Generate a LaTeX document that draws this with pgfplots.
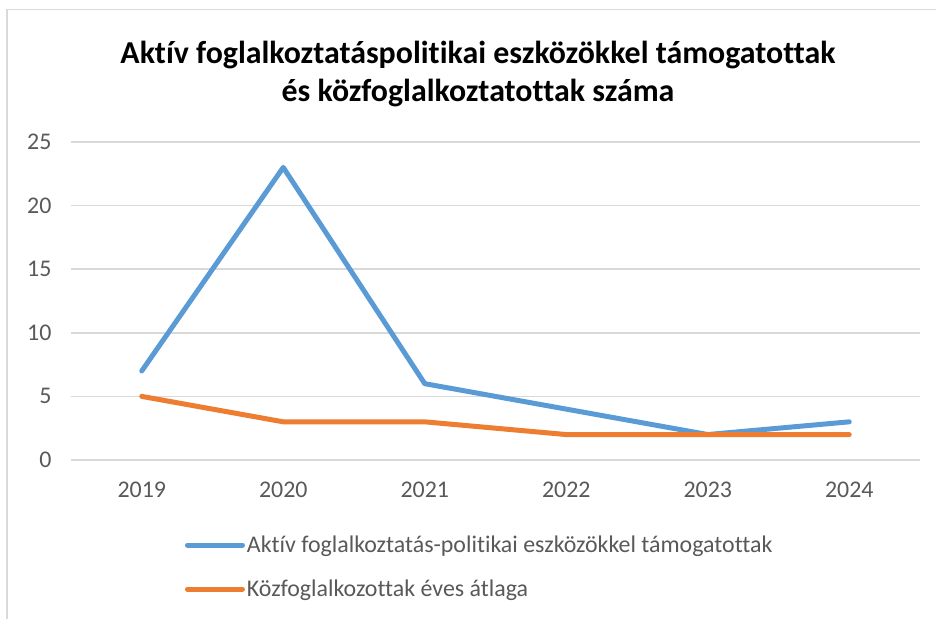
\documentclass[border=0pt]{standalone}
\usepackage{pgfplots}
\pgfplotsset{compat=1.18}
\usepackage{fontspec}
\setmainfont{Carlito}[Ligatures=NoCommon]
\definecolor{serblue}{HTML}{5B9BD5}
\definecolor{serorange}{HTML}{ED7D31}
\definecolor{gridc}{HTML}{D9D9D9}
\definecolor{txt}{HTML}{595959}
\begin{document}
\begin{tikzpicture}[x=1bp,y=1bp]
  \useasboundingbox (0,0) rectangle (936,619);
  \draw[gridc, line width=1.5bp] (7,0) -- (7,609.5) -- (936,609.5);
  \node[align=center, font=\bfseries\fontsize{32}{38}\selectfont, text=black]
    at (478,545) {Aktív foglalkoztatáspolitikai eszközökkel támogatottak\\és közfoglalkoztatottak száma};
  \begin{axis}[
      at={(71bp,159bp)}, anchor=south west,
      scale only axis, width=849bp, height=318bp,
      xmin=-0.5, xmax=5.5, ymin=0, ymax=25,
      xtick={0,...,5},
      xticklabels={2019,2020,2021,2022,2023,2024},
      ytick={0,5,...,25},
      axis line style={draw=none},
      major tick length=0pt,
      ymajorgrids=true,
      grid style={gridc, line width=1.5bp},
      tick label style={font=\fontsize{24}{28}\selectfont, text=txt},
      yticklabel style={anchor=east, xshift=-16bp},
      xticklabel style={anchor=north, yshift=-18bp},
      /pgf/number format/assume math mode=true,
      legend style={at={(0.134,-0.232)}, anchor=north west, draw=none,
        font=\fontsize{24}{28}\selectfont, text=txt,
        row sep=22bp, inner sep=0pt,
        /tikz/every even column/.append style={column sep=0pt}},
      legend cell align=left,
      legend image code/.code={\draw[line width=5bp, line cap=round] (0bp,0bp) -- (55bp,0bp);},
    ]
    \addplot[serblue, line width=5bp, line cap=round, line join=round] coordinates {
      (0,7) (1,23) (2,6) (3,4) (4,2) (5,3)
    };
    \addplot[serorange, line width=5bp, line cap=round, line join=round] coordinates {
      (0,5) (1,3) (2,3) (3,2) (4,2) (5,2)
    };
    \legend{Aktív foglalkoztatás-politikai eszközökkel támogatottak, Közfoglalkozottak éves átlaga}
  \end{axis}
\end{tikzpicture}
\end{document}
